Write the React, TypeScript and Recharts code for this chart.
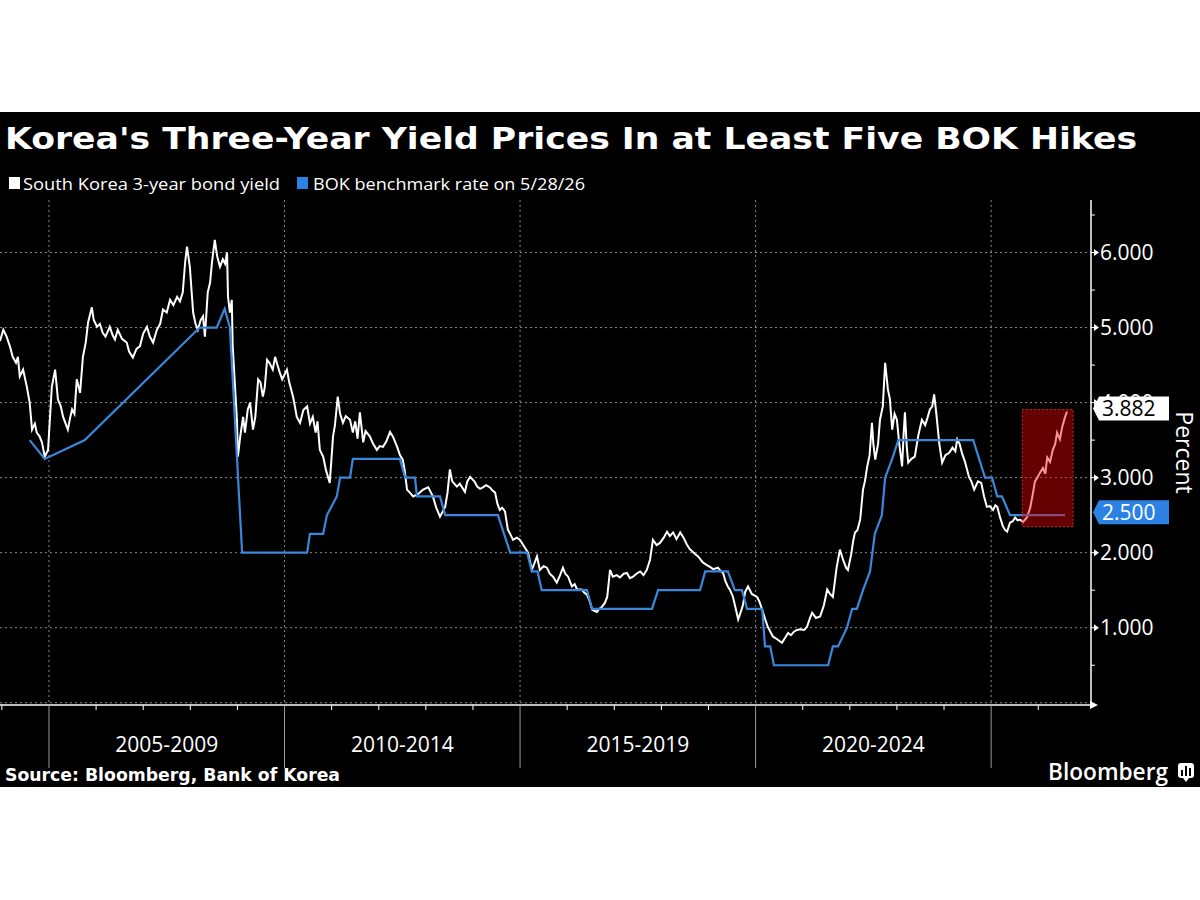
import React from 'react';
import { LineChart, Line, XAxis, YAxis, CartesianGrid, ReferenceArea } from 'recharts';

// ---- data: [decimal year, percent] ----
const yield2004to2008: [number, number][] = [
  [2003.96, 4.82], [2004.03, 4.97], [2004.10, 4.88], [2004.17, 4.75], [2004.23, 4.61], [2004.30, 4.53], [2004.34, 4.61], [2004.38, 4.35], [2004.45, 4.44], [2004.53, 4.21], [2004.59, 4.00], [2004.64, 3.64], [2004.70, 3.72], [2004.74, 3.60], [2004.80, 3.55], [2004.85, 3.47], [2004.91, 3.28], [2004.98, 3.37],
  [2005.06, 4.21], [2005.13, 4.44], [2005.19, 4.04], [2005.25, 3.95], [2005.30, 3.81], [2005.40, 3.64], [2005.45, 3.80], [2005.49, 3.91], [2005.54, 3.85], [2005.59, 4.31], [2005.66, 4.13], [2005.72, 4.61], [2005.78, 4.80], [2005.83, 5.07], [2005.91, 5.27], [2005.95, 5.10],
  [2006.02, 5.01], [2006.08, 5.05], [2006.14, 4.93], [2006.20, 4.88], [2006.29, 5.01], [2006.35, 4.90], [2006.40, 4.84], [2006.46, 4.97], [2006.55, 4.85], [2006.65, 4.80], [2006.70, 4.68], [2006.78, 4.60], [2006.86, 4.72], [2006.93, 4.75],
  [2007.00, 4.92], [2007.08, 5.01], [2007.14, 4.88], [2007.21, 4.80], [2007.29, 4.97], [2007.36, 5.05], [2007.42, 5.24], [2007.50, 5.20], [2007.57, 5.37], [2007.64, 5.30], [2007.72, 5.41], [2007.78, 5.35], [2007.84, 5.47], [2007.89, 5.87], [2007.93, 6.08], [2007.99, 5.81],
  [2008.06, 5.20], [2008.11, 5.05], [2008.16, 4.97], [2008.22, 5.10], [2008.27, 5.15], [2008.31, 4.88], [2008.37, 5.47], [2008.42, 5.60], [2008.46, 5.87], [2008.52, 6.17], [2008.57, 5.95], [2008.63, 5.81], [2008.69, 5.91], [2008.74, 5.85], [2008.78, 6.00], [2008.80, 5.41], [2008.84, 5.20], [2008.88, 5.37], [2008.90, 4.75], [2008.95, 4.20], [2008.99, 3.77],
];
const yield2009to2014: [number, number][] = [
  [2009.01, 3.28], [2009.06, 3.55], [2009.12, 3.81], [2009.16, 3.60], [2009.22, 3.91], [2009.27, 4.00], [2009.33, 3.64], [2009.38, 3.81], [2009.44, 4.31], [2009.49, 4.27], [2009.54, 4.08], [2009.58, 4.20], [2009.63, 4.57], [2009.68, 4.53], [2009.75, 4.44], [2009.80, 4.61], [2009.85, 4.50], [2009.90, 4.40], [2009.95, 4.31],
  [2010.05, 4.44], [2010.10, 4.27], [2010.18, 4.08], [2010.22, 3.95], [2010.26, 3.81], [2010.33, 3.73], [2010.40, 3.90], [2010.48, 3.95], [2010.54, 3.72], [2010.60, 3.81], [2010.66, 3.60], [2010.70, 3.75], [2010.75, 3.37], [2010.82, 3.28], [2010.88, 3.10], [2010.96, 2.93],
  [2011.03, 3.55], [2011.07, 3.70], [2011.13, 4.08], [2011.18, 3.85], [2011.24, 3.73], [2011.30, 3.82], [2011.39, 3.77], [2011.45, 3.60], [2011.50, 3.75], [2011.55, 3.52], [2011.60, 3.87], [2011.67, 3.47], [2011.72, 3.62], [2011.81, 3.55], [2011.88, 3.45], [2011.96, 3.37],
  [2012.02, 3.42], [2012.09, 3.41], [2012.16, 3.48], [2012.24, 3.61], [2012.30, 3.55], [2012.39, 3.41], [2012.45, 3.30], [2012.51, 3.24], [2012.55, 3.10], [2012.60, 2.84], [2012.66, 2.80], [2012.73, 2.75], [2012.83, 2.78], [2012.94, 2.84],
  [2013.05, 2.87], [2013.15, 2.75], [2013.22, 2.60], [2013.30, 2.48], [2013.41, 2.61], [2013.46, 2.80], [2013.51, 3.11], [2013.56, 2.95], [2013.66, 2.88], [2013.72, 2.92], [2013.83, 2.81], [2013.88, 2.95], [2013.94, 3.01],
  [2014.03, 2.95], [2014.09, 2.88], [2014.15, 2.85], [2014.21, 2.87], [2014.28, 2.90], [2014.36, 2.87], [2014.41, 2.83], [2014.47, 2.80], [2014.52, 2.65], [2014.57, 2.57], [2014.62, 2.60], [2014.68, 2.55], [2014.74, 2.31], [2014.79, 2.25], [2014.85, 2.17], [2014.93, 2.20],
];
const yield2015to2020: [number, number][] = [
  [2015.00, 2.17], [2015.05, 2.12], [2015.10, 2.07], [2015.17, 2.00], [2015.25, 1.77], [2015.30, 1.85], [2015.36, 1.95], [2015.42, 1.77], [2015.50, 1.82], [2015.57, 1.80], [2015.63, 1.72], [2015.70, 1.68], [2015.78, 1.60], [2015.85, 1.70], [2015.91, 1.80], [2015.96, 1.72],
  [2016.02, 1.68], [2016.10, 1.55], [2016.16, 1.58], [2016.21, 1.51], [2016.31, 1.51], [2016.36, 1.47], [2016.42, 1.44], [2016.48, 1.35], [2016.53, 1.24], [2016.63, 1.21], [2016.68, 1.25], [2016.74, 1.28], [2016.80, 1.33], [2016.85, 1.41], [2016.91, 1.77], [2016.97, 1.68],
  [2017.05, 1.70], [2017.12, 1.67], [2017.20, 1.72], [2017.27, 1.73], [2017.33, 1.66], [2017.40, 1.68], [2017.47, 1.72], [2017.55, 1.75], [2017.62, 1.70], [2017.69, 1.77], [2017.76, 1.91], [2017.82, 2.17], [2017.90, 2.10], [2017.97, 2.13],
  [2018.05, 2.20], [2018.12, 2.28], [2018.18, 2.22], [2018.25, 2.27], [2018.32, 2.18], [2018.40, 2.27], [2018.47, 2.20], [2018.54, 2.11], [2018.60, 2.05], [2018.67, 2.01], [2018.72, 1.98], [2018.78, 1.95], [2018.88, 1.87], [2018.95, 1.84],
  [2019.03, 1.81], [2019.10, 1.78], [2019.20, 1.80], [2019.25, 1.76], [2019.31, 1.73], [2019.36, 1.62], [2019.41, 1.55], [2019.46, 1.50], [2019.52, 1.41], [2019.58, 1.25], [2019.63, 1.11], [2019.68, 1.20], [2019.73, 1.30], [2019.78, 1.48], [2019.84, 1.55], [2019.92, 1.45],
  [2020.03, 1.41], [2020.08, 1.35], [2020.14, 1.24], [2020.20, 1.12], [2020.26, 1.01], [2020.31, 0.95], [2020.37, 0.88], [2020.45, 0.85], [2020.56, 0.80], [2020.62, 0.86], [2020.69, 0.93], [2020.75, 0.90], [2020.82, 0.95], [2020.88, 0.97], [2020.95, 0.98],
];
const yield2021to2026: [number, number][] = [
  [2021.03, 0.97], [2021.09, 1.01], [2021.15, 1.12], [2021.20, 1.20], [2021.28, 1.13], [2021.37, 1.15], [2021.45, 1.30], [2021.52, 1.51], [2021.58, 1.45], [2021.64, 1.41], [2021.72, 1.80], [2021.79, 2.04], [2021.86, 1.90], [2021.92, 1.80], [2021.96, 1.77],
  [2022.03, 1.98], [2022.07, 2.15], [2022.11, 2.27], [2022.16, 2.30], [2022.22, 2.44], [2022.28, 2.84], [2022.32, 2.95], [2022.37, 3.15], [2022.42, 3.30], [2022.47, 3.73], [2022.50, 3.45], [2022.54, 3.24], [2022.60, 3.45], [2022.64, 3.77], [2022.70, 3.95], [2022.75, 4.53], [2022.78, 4.35], [2022.81, 4.17], [2022.85, 4.05], [2022.90, 3.64], [2022.95, 3.85],
  [2023.00, 3.77], [2023.05, 3.45], [2023.11, 3.15], [2023.14, 3.55], [2023.17, 3.87], [2023.21, 3.40], [2023.24, 3.20], [2023.31, 3.25], [2023.38, 3.28], [2023.45, 3.55], [2023.53, 3.77], [2023.60, 3.70], [2023.65, 3.80], [2023.70, 3.91], [2023.75, 3.95], [2023.79, 4.11], [2023.82, 3.95], [2023.85, 3.77], [2023.90, 3.45], [2023.96, 3.20],
  [2024.03, 3.30], [2024.11, 3.33], [2024.18, 3.40], [2024.24, 3.35], [2024.28, 3.51], [2024.33, 3.45], [2024.38, 3.33], [2024.45, 3.20], [2024.53, 3.01], [2024.58, 2.95], [2024.64, 2.84], [2024.72, 2.95], [2024.79, 2.93], [2024.85, 2.75], [2024.91, 2.61], [2024.97, 2.62],
  [2025.04, 2.57], [2025.09, 2.63], [2025.13, 2.61], [2025.19, 2.47], [2025.25, 2.35], [2025.30, 2.30], [2025.34, 2.28], [2025.40, 2.40], [2025.46, 2.42], [2025.51, 2.47], [2025.56, 2.43], [2025.61, 2.44], [2025.68, 2.41], [2025.76, 2.47], [2025.83, 2.60], [2025.89, 2.80], [2025.93, 2.95], [2025.98, 3.00],
  [2026.04, 3.07], [2026.10, 3.13], [2026.15, 3.05], [2026.19, 3.27], [2026.25, 3.21], [2026.31, 3.37], [2026.36, 3.45], [2026.40, 3.60], [2026.46, 3.51], [2026.51, 3.68], [2026.57, 3.81], [2026.61, 3.882],
];

const rateSeries: [number, number][] = [
  [2004.59, 3.5], [2004.91, 3.25], [2005.76, 3.5], [2008.20, 5.0], [2008.56, 5.0], [2008.73, 5.25], [2008.84, 5.0], [2009.10, 2.0],
  [2010.48, 2.0], [2010.54, 2.25], [2010.82, 2.25], [2010.90, 2.5], [2011.11, 2.75], [2011.18, 3.0], [2011.39, 3.0], [2011.45, 3.25],
  [2012.45, 3.25], [2012.56, 3.0], [2012.77, 3.0], [2012.81, 2.75], [2013.30, 2.75], [2013.41, 2.5], [2014.53, 2.5], [2014.79, 2.0],
  [2015.15, 2.0], [2015.25, 1.75], [2015.37, 1.75], [2015.46, 1.5], [2016.42, 1.5], [2016.53, 1.25], [2017.80, 1.25], [2017.93, 1.5],
  [2018.82, 1.5], [2018.93, 1.75], [2019.41, 1.75], [2019.56, 1.5], [2019.71, 1.5], [2019.82, 1.25], [2020.14, 1.25], [2020.20, 0.75],
  [2020.31, 0.75], [2020.39, 0.5], [2021.54, 0.5], [2021.64, 0.75], [2021.75, 0.75], [2021.94, 1.0], [2022.05, 1.25], [2022.15, 1.25],
  [2022.28, 1.5], [2022.43, 1.75], [2022.53, 2.25], [2022.68, 2.5], [2022.75, 3.0], [2022.90, 3.25], [2023.03, 3.5], [2024.62, 3.5],
  [2024.87, 3.0], [2025.02, 3.0], [2025.13, 2.75], [2025.23, 2.75], [2025.40, 2.5], [2026.57, 2.5],
];

const yearTicks = [2004, 2005, 2006, 2007, 2008, 2009, 2010, 2011, 2012, 2013, 2014, 2015, 2016, 2017, 2018, 2019, 2020, 2021, 2022, 2023, 2024, 2025, 2026];
const separatorYears = [2005, 2010, 2015, 2020, 2025];
const periodCenters = [2007.5, 2012.5, 2017.5, 2022.5];
const periodLabels = ['2005-2009', '2010-2014', '2015-2019', '2020-2024'];
const xDomain = [2003.96, 2027.12];
const yDomain = [-0.03, 6.7];
const yAxisTicks = [0.5, 1, 1.5, 2, 3, 3.5, 4, 4.5, 5, 5.5, 6, 6.5];
const gridValues = [0, 1, 2, 3, 4, 5, 6];
const highlightX = [2025.66, 2026.74];
const highlightY = [2.347, 3.907];
const lastYield = 3.882;
const lastRate = 2.5;

const TITLE = "Korea's Three-Year Yield Prices In at Least Five BOK Hikes";
const LEGEND_YIELD = 'South Korea 3-year bond yield';
const LEGEND_RATE = 'BOK benchmark rate on 5/28/26';
const SOURCE = 'Source: Bloomberg, Bank of Korea';

const WHITE = '#ffffff';
const BLUE = '#3a87dc';
const TAG_BLUE = '#2b82e3';
const FONT = "'Open Sans', 'Noto Sans', sans-serif";

const toRows = (pts: [number, number][]) => pts.map(([x, y]) => ({ x, y })).sort((a, b) => a.x - b.x);
const yieldData = toRows([...yield2004to2008, ...yield2009to2014, ...yield2015to2020, ...yield2021to2026]);
const rateData = toRows(rateSeries);

const XTick = (props: any) => {
  const { x, y, payload } = props;
  const v = payload.value;
  const pi = periodCenters.indexOf(v);
  if (pi >= 0) {
    return (
      <text x={x} y={y + 41} textAnchor="middle" dominantBaseline="middle" fill={WHITE} fontSize={21} fontFamily={FONT}>
        {periodLabels[pi]}
      </text>
    );
  }
  if (v === xDomain[1]) {
    return <path d={`M${x - 1},${y - 4} L${x + 7},${y} L${x - 1},${y + 4} Z`} fill={WHITE} />;
  }
  if (separatorYears.indexOf(v) >= 0) {
    return <line x1={x} x2={x} y1={y} y2={y + 63} stroke="#9a9a9a" strokeWidth={1} />;
  }
  return <line x1={x} x2={x} y1={y} y2={y + 5} stroke={WHITE} strokeWidth={1} />;
};

const Tag = ({ x, y, text, bg, fg }: any) => {
  const left = x + 2;
  const cy = y - 3;
  return (
    <g>
      <path d={`M${left},${cy} L${left + 6},${cy - 12} L${left + 76},${cy - 12} L${left + 76},${cy + 12} L${left + 6},${cy + 12} Z`} fill={bg} />
      <text x={left + 9} y={cy} dy="0.36em" fill={fg} fontSize={21} fontFamily={FONT}>
        {text}
      </text>
    </g>
  );
};

const YTick = (props: any) => {
  const { x, y, payload } = props;
  const v = payload.value;
  if (v === lastYield) return <Tag x={x} y={y} text={lastYield.toFixed(3)} bg={WHITE} fg="#000" />;
  if (v === lastRate) return <Tag x={x} y={y} text={lastRate.toFixed(3)} bg={TAG_BLUE} fg={WHITE} />;
  if (Number.isInteger(v)) {
    return (
      <g>
        <line x1={x} x2={x + 4} y1={y} y2={y} stroke={WHITE} strokeWidth={1} />
        <path d={`M${x + 3},${y - 3.5} L${x + 8},${y} L${x + 3},${y + 3.5} Z`} fill={WHITE} />
        <text x={x + 9} y={y} dy="0.36em" fill={WHITE} fontSize={21} fontFamily={FONT}>
          {v.toFixed(3)}
        </text>
      </g>
    );
  }
  return <line x1={x} x2={x + 4} y1={y} y2={y} stroke={WHITE} strokeWidth={1} />;
};

const PercentLabel = (props: any) => {
  const vb = props.viewBox || {};
  const cx = vb.x + vb.width - 16;
  const cy = vb.y + vb.height / 2;
  return (
    <text x={cx} y={cy} dy="0.36em" textAnchor="middle" transform={`rotate(90 ${cx} ${cy})`} fill={WHITE} fontSize={23} fontFamily={FONT}>
      Percent
    </text>
  );
};

export default function App() {
  return (
    <div style={{ position: 'absolute', left: 0, top: 0, width: 1200, height: 900, background: '#fff', fontFamily: FONT }}>
      <div style={{ position: 'absolute', left: 0, top: 112, width: 1200, height: 675, background: '#000' }} />
      <svg width={1200} height={900} style={{ position: 'absolute', left: 0, top: 0 }}>
        <text x={5} y={149} fill={WHITE} fontSize={30} fontWeight="bold" fontFamily="'DejaVu Sans', sans-serif" textLength={1132} lengthAdjust="spacingAndGlyphs">
          {TITLE}
        </text>
        <rect x={9} y={177} width={11} height={12} fill={WHITE} />
        <text x={23} y={190} fill={WHITE} fontSize={17} fontFamily={FONT} textLength={257} lengthAdjust="spacingAndGlyphs">
          {LEGEND_YIELD}
        </text>
        <rect x={297} y={177} width={11} height={12} fill={TAG_BLUE} />
        <text x={313} y={190} fill={WHITE} fontSize={17} fontFamily={FONT} textLength={272} lengthAdjust="spacingAndGlyphs">
          {LEGEND_RATE}
        </text>
        <text x={5} y={781} fill={WHITE} fontSize={18} fontWeight="bold" fontFamily="'DejaVu Sans', sans-serif" textLength={335} lengthAdjust="spacingAndGlyphs">
          {SOURCE}
        </text>
        <text x={1048} y={780} fill={WHITE} fontSize={23} fontWeight={600} fontFamily={FONT} textLength={120} lengthAdjust="spacingAndGlyphs">
          Bloomberg
        </text>
        <g>
          <rect x={1178} y={763} width={16} height={15} rx={3} fill={WHITE} />
          <path d="M1183,778 L1186,782 L1189,778 Z" fill={WHITE} />
          <rect x={1181} y={770} width={2} height={6} fill="#000" />
          <rect x={1185} y={766} width={2} height={10} fill="#000" />
          <rect x={1189} y={768} width={2} height={8} fill="#000" />
        </g>
      </svg>
      <div style={{ position: 'absolute', left: 0, top: 0 }}>
        <LineChart width={1200} height={900} margin={{ top: 200, right: 0, bottom: 130, left: 0 }}>
          <CartesianGrid
            stroke="#8a8a8a"
            strokeDasharray="2 3"
            strokeWidth={1}
            horizontalValues={gridValues}
            verticalValues={separatorYears}
          />
          <XAxis
            dataKey="x"
            type="number"
            domain={xDomain}
            allowDataOverflow
            ticks={[...yearTicks, ...periodCenters, xDomain[1]]}
            interval={0}
            tick={XTick}
            tickLine={false}
            tickSize={0}
            tickMargin={0}
            height={65}
            axisLine={{ stroke: WHITE, strokeWidth: 1.5 }}
          />
          <YAxis
            orientation="right"
            type="number"
            domain={yDomain}
            allowDataOverflow
            ticks={[...yAxisTicks, lastRate, lastYield]}
            interval={0}
            tick={YTick}
            tickLine={false}
            tickSize={0}
            tickMargin={0}
            width={109}
            axisLine={{ stroke: WHITE, strokeWidth: 1.5 }}
            label={{ content: PercentLabel }}
          />
          <Line data={yieldData} dataKey="y" type="linear" stroke={WHITE} strokeWidth={2} dot={false} isAnimationActive={false} name={LEGEND_YIELD} />
          <Line data={rateData} dataKey="y" type="linear" stroke={BLUE} strokeWidth={2.2} dot={false} isAnimationActive={false} name={LEGEND_RATE} />
          <ReferenceArea
            x1={highlightX[0]}
            x2={highlightX[1]}
            y1={highlightY[0]}
            y2={highlightY[1]}
            fill="#f00000"
            fillOpacity={0.42}
            stroke="#d82828"
            strokeDasharray="2 2"
            strokeWidth={1}
            zIndex={450}
          />
        </LineChart>
      </div>
    </div>
  );
}
